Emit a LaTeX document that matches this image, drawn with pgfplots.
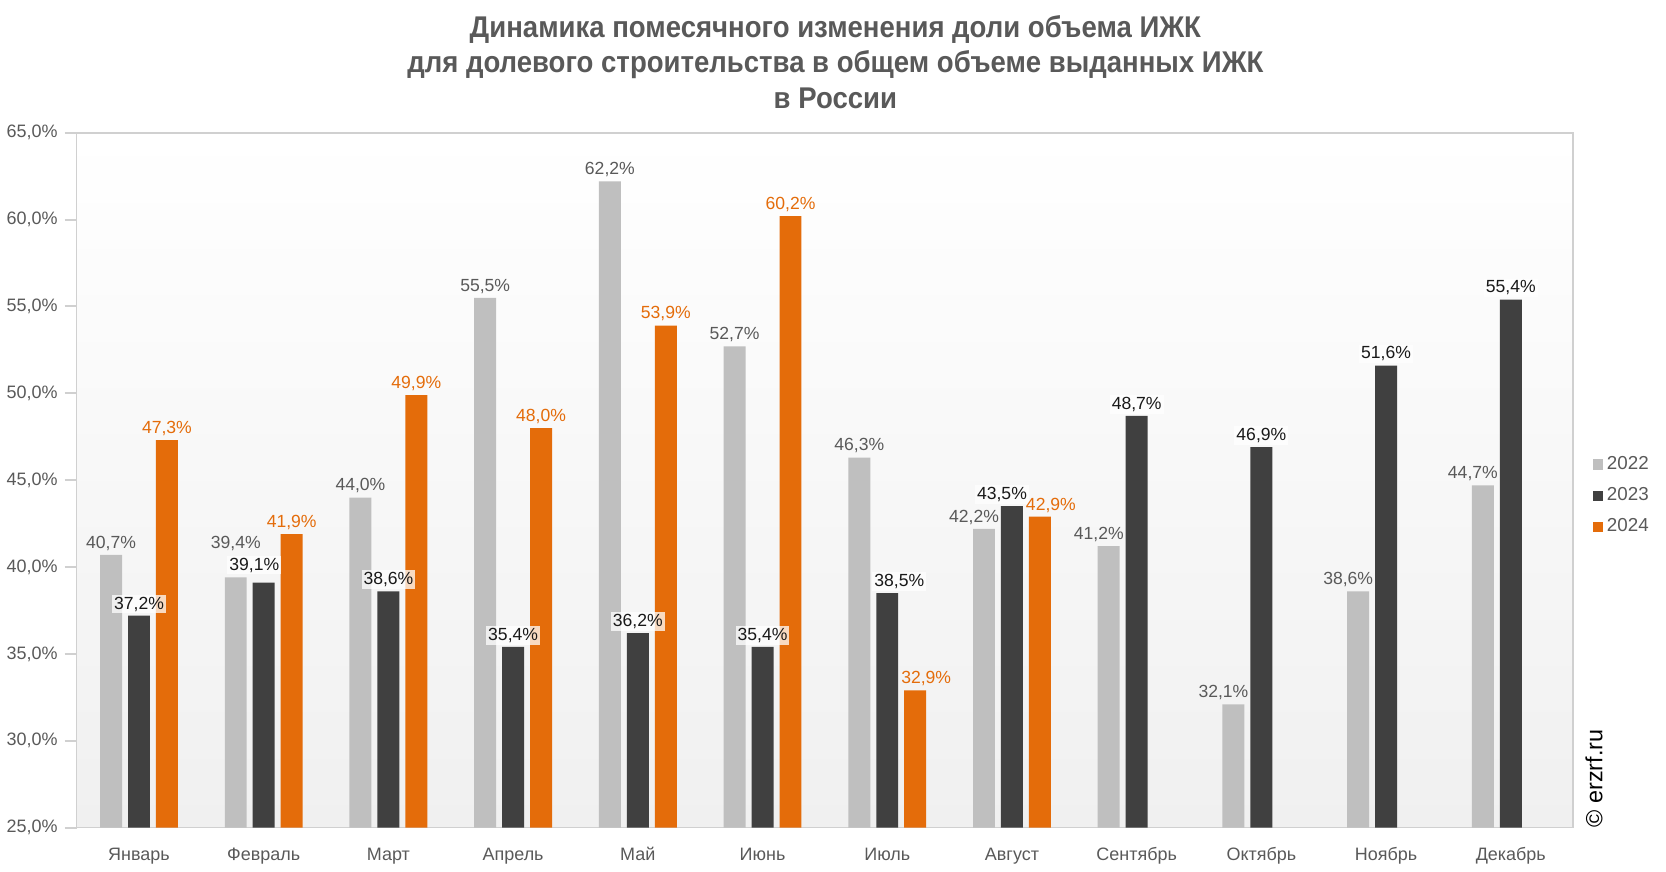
\documentclass[border=0pt]{standalone}
\usepackage{fontspec}
\setmainfont{Liberation Sans}
\newfontfamily\titlefont{Liberation Sans}[FakeStretch=0.92]
\usepackage{pgfplots}
\usepackage{pgfplotstable}
\pgfplotsset{compat=1.18}
\usetikzlibrary{shadings}

\definecolor{c22}{HTML}{BFBFBF}
\definecolor{c23}{HTML}{404040}
\definecolor{c24}{HTML}{E46C0A}
\definecolor{txt}{HTML}{595959}
\definecolor{axl}{HTML}{D0D0D0}

% x = month index, y = share (%), dx/dy = label offsets (pt)
\pgfplotstableread{
x y dx dy
0 40.7 0 0
1 39.4 0 11
2 44.0 0 0
3 55.5 0 0
4 62.2 0 0
5 52.7 0 0
6 46.3 0 0
7 42.2 -5 0
8 41.2 -5 0
9 32.1 -5 0
10 38.6 -5 0
11 44.7 -5 0
}\tA
\pgfplotstableread{
x y dx dy
0 37.2 0 0
1 39.1 -4.7 3
2 38.6 0 0
3 35.4 0 0
4 36.2 0 0
5 35.4 0 0
6 38.5 6 0
7 43.5 -5 0
8 48.7 0 0
9 46.9 0 0
10 51.6 0 0
11 55.4 0 0
}\tB
\pgfplotstableread{
x y dx dy
0 47.3 0 0
1 41.9 0 0
2 49.9 0 0
3 48.0 0 0
4 53.9 0 0
5 60.2 0 0
6 32.9 5.5 0
7 42.9 5.5 0
8 nan 0 0
9 nan 0 0
10 nan 0 0
11 nan 0 0
}\tC

\begin{document}
\begin{tikzpicture}[x=0.5pt,y=0.5pt]
\begin{axis}[
  scale only axis,
  width=749.5pt, height=348pt,
  ybar, bar width=11pt, ybar=3pt,
  xmin=-0.5, xmax=11.5,
  ymin=25, ymax=65,
  ytick={25,30,...,65},
  xtick={0,...,11},
  xticklabels={Январь,Февраль,Март,Апрель,Май,Июнь,Июль,Август,Сентябрь,Октябрь,Ноябрь,Декабрь},
  extra x ticks={-0.5,0.5,...,11.5},
  extra x tick labels={},
  extra x tick style={major tick length=6pt, tick style={axl, line width=1pt}},
  major x tick style={draw=none},
  major tick length=6pt,
  tick align=outside,
  xtick pos=bottom, ytick pos=left,
  tick style={axl, line width=1pt},
  axis line style={axl, line width=0.8pt},
  axis background/.style={shade, top color=white, bottom color={rgb,255:red,240;green,240;blue,240}},
  /pgf/number format/assume math mode=true,
  yticklabel={\pgfmathprintnumber[fixed,fixed zerofill,precision=1,use comma]{\tick}\%},
  ticklabel style={font=\fontsize{9}{10}\selectfont, text=txt},
  xticklabel style={yshift=-0.5pt},
  visualization depends on={\thisrow{dx}\as\dx},
  visualization depends on={\thisrow{dy}\as\dy},
  nodes near coords={\pgfmathprintnumber[fixed,fixed zerofill,precision=1,use comma,assume math mode=true]{\pgfplotspointmeta}\%},
  nodes near coords style={font=\fontsize{8.8}{10}\selectfont, inner sep=1pt,
    yshift=1pt, xshift=\dx pt, yshift=\dy pt},
  legend style={at={(1.0087,0.546)}, anchor=north west, draw=none, fill=none,
    font=\fontsize{9.4}{10}\selectfont, text=txt, row sep=3.5pt,
    /tikz/every even column/.append style={column sep=1pt}},
  legend image code/.code={\fill[#1] (0pt,-2.6pt) rectangle (5.2pt,2.6pt);},
  clip=false,
]
\addplot[fill=c22, draw=none, every node near coord/.append style={text=txt}]
  table[x=x, y=y] {\tA};
\addlegendentry{2022}
\addplot[fill=c23, draw=none, every node near coord/.append style={text=black!90, fill=white, fill opacity=0.75, text opacity=1}]
  table[x=x, y=y] {\tB};
\addlegendentry{2023}
\addplot[fill=c24, draw=none, every node near coord/.append style={text=c24}]
  table[x=x, y=y] {\tC};
\addlegendentry{2024}
\node[anchor=south, align=center, inner sep=0pt, text=txt,
  font=\titlefont\bfseries\fontsize{15}{17.6}\selectfont]
  at (rel axis cs:0.507,1) [yshift=12pt]
  {Динамика помесячного изменения доли объема ИЖК\\
   для долевого строительства в общем объеме выданных ИЖК\\
   в России};
\node[xshift=6pt, rotate=90, anchor=north west, inner sep=0pt,
  font=\fontsize{11.7}{12}\selectfont, text=black]
  at (rel axis cs:1,0) {© erzrf.ru};
\end{axis}
\path[use as bounding box] (-74,-43) rectangle (1592,829);
\end{tikzpicture}
\end{document}
